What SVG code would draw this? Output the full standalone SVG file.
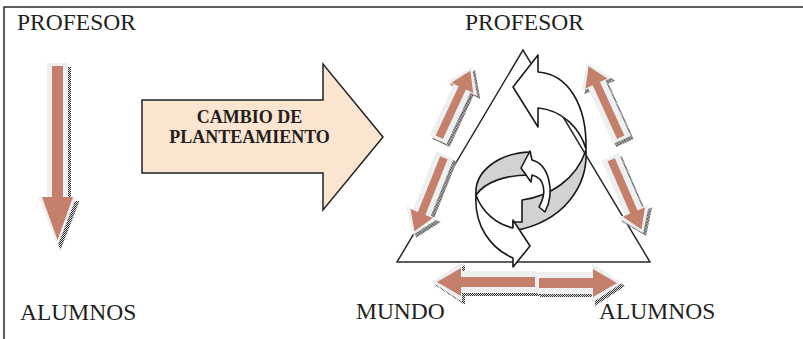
<svg xmlns="http://www.w3.org/2000/svg" width="803" height="339" viewBox="0 0 803 339">
<style>
text{font-family:"Liberation Serif","Times New Roman",serif;fill:#231f20}
.lbl{font-size:23.5px}
.big{font-size:18px;font-weight:bold;text-anchor:middle}
.ln{fill:none;stroke:#2a2a2a;stroke-width:1.5}
.sh{fill:url(#chk)}
.og{fill:#eeeff0}
.br{fill:#c4806a}
.cw{fill:#fff;stroke:#1a1a1a;stroke-width:1.6;stroke-linejoin:round}
.cg{fill:#d2d2d2;stroke:#1a1a1a;stroke-width:1.6;stroke-linejoin:round}
.bigarrow{fill:#fbe4d0;stroke:#222;stroke-width:1.5}
</style>
<defs>
<pattern id="chk" width="2" height="2" patternUnits="userSpaceOnUse"><rect width="2" height="2" fill="#dcdcdc"/><rect width="1" height="1" fill="#333"/><rect x="1" y="1" width="1" height="1" fill="#333"/></pattern>
<path id="oUL" d="M0,-9.5 L56.5,-9.5 L56.5,-17 L80.5,0 L56.5,17 L56.5,9.5 L0,9.5 Z"/>
<path id="bUL" d="M3,-4 L57.5,-4 L57.5,-12 L76.5,0 L57.5,12 L57.5,4 L3,4 Z"/>
<path id="oLL" d="M0,-9.5 L62,-9.5 L62,-17 L86,0 L62,17 L62,9.5 L0,9.5 Z"/>
<path id="bLL" d="M3,-4 L63,-4 L63,-12 L82,0 L63,12 L63,4 L3,4 Z"/>
<path id="oUR" d="M0,-9.5 L61,-9.5 L61,-17 L85,0 L61,17 L61,9.5 L0,9.5 Z"/>
<path id="bUR" d="M3,-4 L62,-4 L62,-12 L81,0 L62,12 L62,4 L3,4 Z"/>
<path id="oLR" d="M0,-9.5 L59,-9.5 L59,-17 L83,0 L59,17 L59,9.5 L0,9.5 Z"/>
<path id="bLR" d="M3,-4 L60,-4 L60,-12 L79,0 L60,12 L60,4 L3,4 Z"/>
<path id="oBL" d="M0,-11 L75,-11 L75,-20 L105,0 L75,20 L75,11 L0,11 Z"/>
<path id="bBL" d="M2,-5 L76,-5 L76,-14 L100,0 L76,14 L76,5 L2,5 Z"/>
<path id="oBR" d="M0,-11 L55,-11 L55,-20 L85,0 L55,20 L55,11 L0,11 Z"/>
<path id="bBR" d="M2,-5 L56,-5 L56,-14 L80,0 L56,14 L56,5 L2,5 Z"/>
<path id="oV" d="M47,63 H68 V197 H76.5 L57.5,246 L38.5,197 H47 Z"/>
</defs>

<g id="frame"><path class="ln" d="M4,339 V7 H803"/></g>

<g id="profesor-left"><text class="lbl" x="17" y="30">PROFESOR</text></g>
<g id="alumnos-left"><text class="lbl" x="20" y="320">ALUMNOS</text></g>

<g id="cambio-de-planteamiento">
<path class="bigarrow" d="M142,100 H323 V64 L383,137 L323,210 V173 H142 Z"/>
<text class="big" x="249.5" y="122.5">CAMBIO DE</text>
<text class="big" x="249.5" y="143">PLANTEAMIENTO</text>
</g>

<g id="profesor-right"><text class="lbl" x="465" y="30">PROFESOR</text></g>
<g id="mundo"><text class="lbl" x="356" y="319">MUNDO</text></g>
<g id="alumnos-right"><text class="lbl" x="599" y="319">ALUMNOS</text></g>

<g id="ciclo">
<path class="ln" d="M523,50 L397,262 H650 Z"/>
<path class="cg" d="M586,150 C588,185 565,222 513,231 L513,222 L522,222 L522,200 C550,196 576,180 586,150 Z"/>
<path class="cw" d="M538,72 C568,74 587,105 586,149 C580,128 562,110 538,108 L538,127 L513,87 L538,55 Z"/>
<path class="cg" d="M476,195 C474,172 498,153 530,152 L530,175 C505,175 485,182 476,195 Z"/>
<path class="cw" d="M476,195 C474,225 490,248 513,258 L513,267 L530,246 L513,220 L513,228 C496,224 482,212 476,195 Z"/>
<path class="cw" d="M532,160 C548,164 556,190 545,212 L539,207 C547,193 545,178 532,175 L531,182 L521,168 L530,151 Z"/>
</g>

<g id="connectors">
<g id="profesor-alumnos-left">
<use href="#oV" class="sh" transform="translate(3,4)"/>
<use href="#oV" class="og"/>
<path class="br" d="M52,66 H63 V197 H73 L57.5,240 L42,197 H52 Z"/>
</g>
<g id="tri-left">
<use href="#oUL" class="sh" transform="translate(441,143) rotate(-65)"/>
<use href="#oUL" class="og" transform="translate(438,140) rotate(-65)"/>
<use href="#bUL" class="br" transform="translate(438,140) rotate(-65)"/>
<use href="#oLL" class="sh" transform="translate(448,158) rotate(111.8)"/>
<use href="#oLL" class="og" transform="translate(445,155) rotate(111.8)"/>
<use href="#bLL" class="br" transform="translate(445,155) rotate(111.8)"/>
</g>
<g id="tri-right">
<use href="#oUR" class="sh" transform="translate(625,143) rotate(-114.4)"/>
<use href="#oUR" class="og" transform="translate(622,140) rotate(-114.4)"/>
<use href="#bUR" class="br" transform="translate(622,140) rotate(-114.4)"/>
<use href="#oLR" class="sh" transform="translate(613,160) rotate(66.5)"/>
<use href="#oLR" class="og" transform="translate(610,157) rotate(66.5)"/>
<use href="#bLR" class="br" transform="translate(610,157) rotate(66.5)"/>
</g>
<g id="tri-bottom">
<use href="#oBL" class="sh" transform="translate(540,285) rotate(180)"/>
<use href="#oBR" class="sh" transform="translate(540,286)"/>
<use href="#oBL" class="og" transform="translate(537,282) rotate(180)"/>
<use href="#bBL" class="br" transform="translate(537,282) rotate(180)"/>
<use href="#oBR" class="og" transform="translate(537,283)"/>
<use href="#bBR" class="br" transform="translate(537,283)"/>
</g>
</g>
</svg>
